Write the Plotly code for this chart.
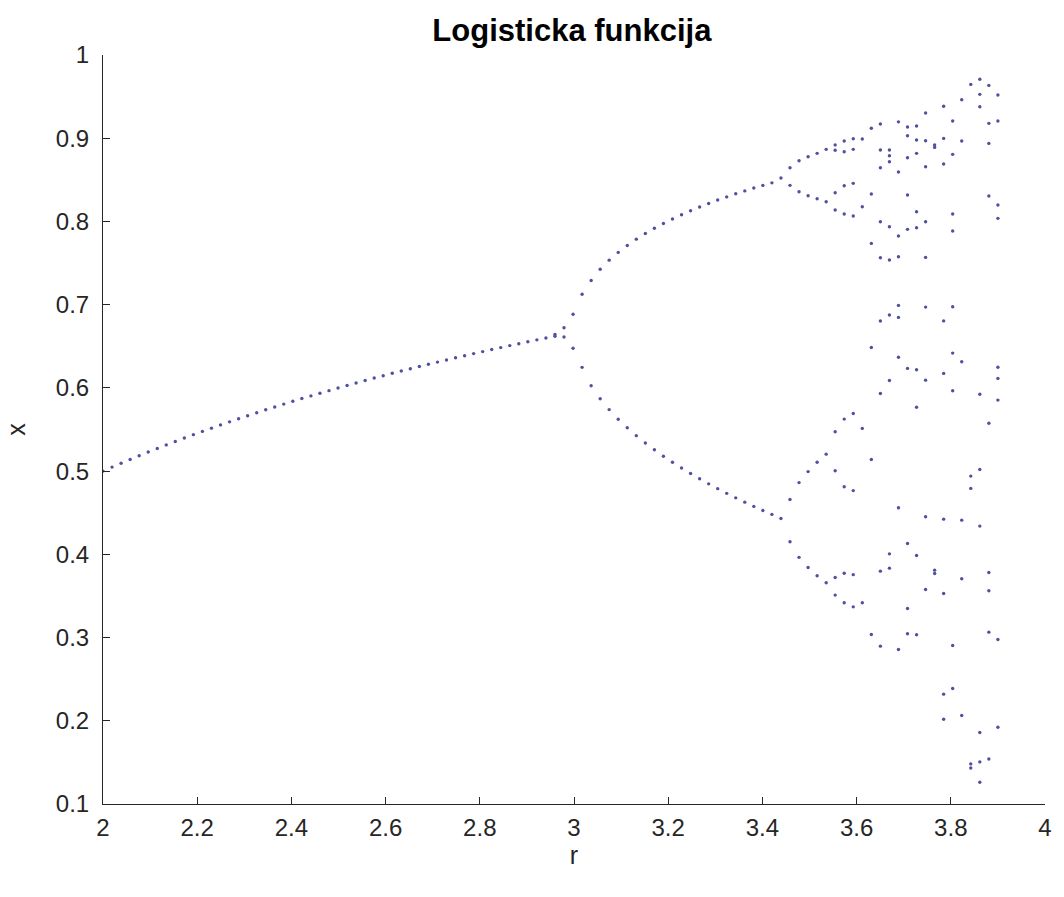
import plotly.graph_objects as go

# r values (100 columns, 2.0 .. 3.9)
r_values = [
    2.0000, 2.0192, 2.0384, 2.0576, 2.0768, 2.0960, 2.1152, 2.1343, 2.1535, 2.1727,
    2.1919, 2.2111, 2.2303, 2.2495, 2.2687, 2.2879, 2.3071, 2.3263, 2.3455, 2.3646,
    2.3838, 2.4030, 2.4222, 2.4414, 2.4606, 2.4798, 2.4990, 2.5182, 2.5374, 2.5566,
    2.5758, 2.5949, 2.6141, 2.6333, 2.6525, 2.6717, 2.6909, 2.7101, 2.7293, 2.7485,
    2.7677, 2.7869, 2.8061, 2.8253, 2.8444, 2.8636, 2.8828, 2.9020, 2.9212, 2.9404,
    2.9596, 2.9788, 2.9980, 3.0172, 3.0364, 3.0556, 3.0747, 3.0939, 3.1131, 3.1323,
    3.1515, 3.1707, 3.1899, 3.2091, 3.2283, 3.2475, 3.2667, 3.2859, 3.3051, 3.3242,
    3.3434, 3.3626, 3.3818, 3.4010, 3.4202, 3.4394, 3.4586, 3.4778, 3.4970, 3.5162,
    3.5354, 3.5545, 3.5737, 3.5929, 3.6121, 3.6313, 3.6505, 3.6697, 3.6889, 3.7081,
    3.7273, 3.7465, 3.7657, 3.7848, 3.8040, 3.8232, 3.8424, 3.8616, 3.8808, 3.9000,
]

# single fixed point, columns 0..49
x_stable = [
    0.5000, 0.5048, 0.5094, 0.5140, 0.5185, 0.5229, 0.5272, 0.5315, 0.5356, 0.5397,
    0.5438, 0.5477, 0.5516, 0.5555, 0.5592, 0.5629, 0.5666, 0.5701, 0.5737, 0.5771,
    0.5805, 0.5839, 0.5872, 0.5904, 0.5936, 0.5967, 0.5998, 0.6029, 0.6059, 0.6089,
    0.6118, 0.6146, 0.6175, 0.6203, 0.6230, 0.6257, 0.6284, 0.6310, 0.6336, 0.6362,
    0.6387, 0.6412, 0.6436, 0.6461, 0.6484, 0.6508, 0.6531, 0.6554, 0.6577, 0.6599,
]

# two branches, columns 50..75
x_branch_upper = [
    0.6643, 0.6723, 0.6884, 0.7125, 0.7290, 0.7425, 0.7535, 0.7628, 0.7711, 0.7787,
    0.7855, 0.7918, 0.7976, 0.8030, 0.8081, 0.8128, 0.8173, 0.8216, 0.8257, 0.8295,
    0.8332, 0.8367, 0.8401, 0.8433, 0.8464, 0.8522,
]
x_branch_lower = [
    0.6620, 0.6611, 0.6476, 0.6247, 0.6025, 0.5869, 0.5739, 0.5624, 0.5521, 0.5426,
    0.5338, 0.5256, 0.5179, 0.5106, 0.5037, 0.4971, 0.4908, 0.4847, 0.4789, 0.4733,
    0.4679, 0.4627, 0.4576, 0.4527, 0.4480, 0.4431,
]

# cascade / chaos, columns 76..99
x_cascade = [
    [0.8646, 0.8434, 0.4659, 0.4151],
    [0.8730, 0.8357, 0.4862, 0.3964],
    [0.8778, 0.8309, 0.4994, 0.3842],
    [0.8818, 0.8273, 0.5106, 0.3742],
    [0.8866, 0.8237, 0.5204, 0.3658],
    [0.8920, 0.8856, 0.8345, 0.8137, 0.5473, 0.5004, 0.3722, 0.3510],
    [0.8966, 0.8838, 0.8429, 0.8089, 0.5625, 0.4812, 0.3772, 0.3418],
    [0.8994, 0.8866, 0.8458, 0.8065, 0.5693, 0.4766, 0.3756, 0.3369],
    [0.8990, 0.8177, 0.5513, 0.3418],
    [0.9119, 0.8329, 0.7736, 0.6486, 0.5140, 0.3037],
    [0.9171, 0.8858, 0.8646, 0.7997, 0.7564, 0.6803, 0.5933, 0.3798, 0.2897],
    [0.8858, 0.8790, 0.8718, 0.7937, 0.7536, 0.6875, 0.6088, 0.4006, 0.3834],
    [0.9197, 0.8594, 0.7825, 0.7576, 0.6991, 0.6847, 0.6368, 0.4559, 0.2857],
    [0.9135, 0.9030, 0.8766, 0.8317, 0.7905, 0.6234, 0.4131, 0.3349, 0.3045],
    [0.9147, 0.8978, 0.8818, 0.8117, 0.7925, 0.6218, 0.5767, 0.3986, 0.3033],
    [0.9303, 0.8970, 0.8658, 0.7997, 0.7568, 0.6971, 0.6093, 0.4451, 0.3578],
    [0.8918, 0.8890, 0.3810, 0.3770],
    [0.9385, 0.8998, 0.8690, 0.6805, 0.6174, 0.4423, 0.3530, 0.2320, 0.2019],
    [0.9207, 0.8806, 0.8089, 0.7885, 0.6975, 0.6418, 0.5966, 0.2905, 0.2388],
    [0.9463, 0.8966, 0.6314, 0.4411, 0.3706, 0.2063],
    [0.9647, 0.4940, 0.4792, 0.1482, 0.1432],
    [0.9708, 0.9527, 0.9379, 0.5924, 0.5020, 0.4339, 0.1859, 0.1506, 0.1262],
    [0.9635, 0.9179, 0.8938, 0.8305, 0.5575, 0.3782, 0.3562, 0.3065, 0.1541],
    [0.9519, 0.9207, 0.8197, 0.8037, 0.6248, 0.6114, 0.5853, 0.2977, 0.1923],
]

x_ticks = [2, 2.2, 2.4, 2.6, 2.8, 3, 3.2, 3.4, 3.6, 3.8, 4]
x_tick_text = ["2", "2.2", "2.4", "2.6", "2.8", "3", "3.2", "3.4", "3.6", "3.8", "4"]
y_ticks = [0.1, 0.2, 0.3, 0.4, 0.5, 0.6, 0.7, 0.8, 0.9, 1]
y_tick_text = ["0.1", "0.2", "0.3", "0.4", "0.5", "0.6", "0.7", "0.8", "0.9", "1"]

# flatten columns into points
pts_r, pts_x = [], []
for i, v in enumerate(x_stable):
    pts_r.append(r_values[i]); pts_x.append(v)
off = len(x_stable)
for j, (u, l) in enumerate(zip(x_branch_upper, x_branch_lower)):
    pts_r += [r_values[off + j], r_values[off + j]]
    pts_x += [u, l]
off += len(x_branch_upper)
for j, col in enumerate(x_cascade):
    for v in col:
        pts_r.append(r_values[off + j]); pts_x.append(v)

font_col = "#262626"
fam = "Liberation Sans, Arial, sans-serif"
fig = go.Figure()
fig.add_trace(go.Scatter(
    x=pts_r, y=pts_x, mode="markers",
    marker=dict(size=3.4, color="rgb(80,80,160)", line=dict(width=0)),
    showlegend=False, hoverinfo="x+y",
))

fig.update_layout(
    width=1064, height=897,
    margin=dict(l=103, r=12, t=55, b=93),
    paper_bgcolor="white", plot_bgcolor="white",
    font=dict(family=fam, color=font_col, size=24),
    title=dict(text="<b>Logisticka funkcija</b>", x=0.5375, xanchor="center",
               y=0.966, yanchor="middle",
               font=dict(size=31, color="black", family=fam)),
    xaxis=dict(range=[2, 4], tickvals=x_ticks, ticktext=x_tick_text,
               ticks="inside", ticklen=7, tickwidth=1, tickcolor=font_col,
               showline=True, linecolor=font_col, linewidth=1,
               showgrid=False, zeroline=False, mirror=False,
               ticklabelstandoff=2,
               tickfont=dict(size=24, color=font_col),
               title=dict(text="r", font=dict(size=25, color=font_col), standoff=4)),
    yaxis=dict(range=[0.1, 1], tickvals=y_ticks, ticktext=y_tick_text,
               ticks="inside", ticklen=7, tickwidth=1, tickcolor=font_col,
               showline=True, linecolor=font_col, linewidth=1,
               showgrid=False, zeroline=False, mirror=False,
               ticklabelstandoff=8,
               tickfont=dict(size=24, color=font_col),
               title=dict(text="x", font=dict(size=25, color=font_col), standoff=23)),
)

fig.write_html("out.html")
